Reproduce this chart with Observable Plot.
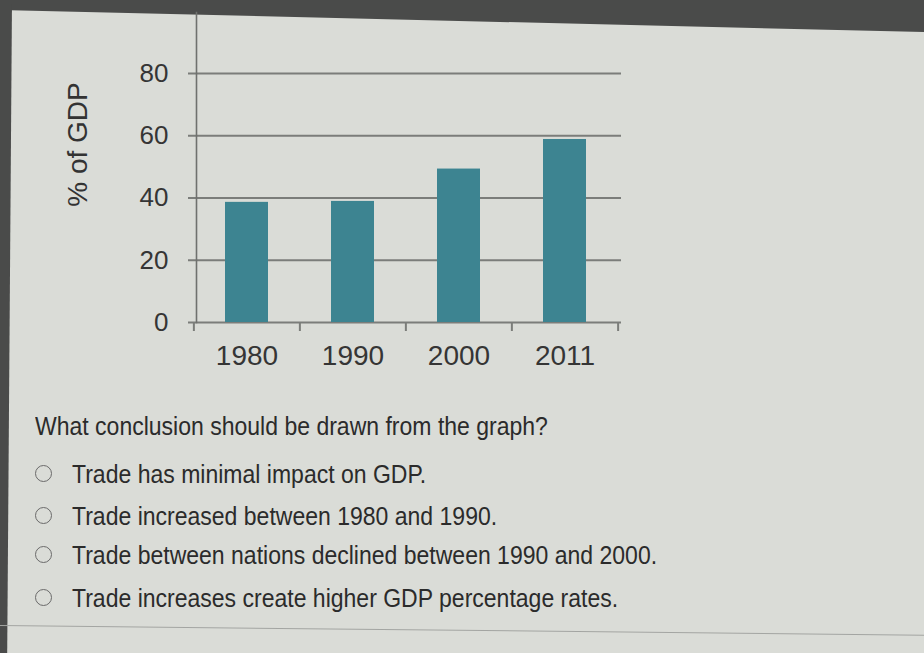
<!DOCTYPE html>
<html>
<head>
<meta charset="utf-8">
<script src="https://cdn.jsdelivr.net/npm/d3@7"></script>
<script src="https://cdn.jsdelivr.net/npm/@observablehq/plot@0.6"></script>
<style>
html,body{margin:0;padding:0;}
body{width:924px;height:653px;overflow:hidden;background:#dadcd7;position:relative;font-family:"Liberation Sans",Arial,sans-serif;}
#topbar{position:absolute;left:0;top:0;width:924px;height:34px;background:#4a4b4a;clip-path:polygon(0 0,100% 0,100% 32px,0 10px);}
#leftbar{position:absolute;left:0;top:0;width:12px;height:653px;background:#4a4b4a;clip-path:polygon(0 0,100% 0,60% 100%,0 100%);}
#chart{position:absolute;left:0;top:0;}
#q{position:absolute;left:35px;top:411px;font-family:"Liberation Sans",Arial,sans-serif;font-size:26px;line-height:30px;color:#2b2b2b;white-space:nowrap;transform-origin:0 50%;transform:scaleX(0.885);}
.opt{position:absolute;left:35px;height:30px;font-family:"Liberation Sans",Arial,sans-serif;font-size:26px;line-height:30px;color:#2b2b2b;white-space:nowrap;}
.opt .c{position:absolute;left:0px;top:6px;width:15px;height:15px;border:1.8px solid #6a6a6a;border-radius:50%;box-sizing:content-box;}
.opt .t{position:absolute;left:37px;top:0;display:inline-block;transform-origin:0 50%;transform:scaleX(0.885);}
#sep{position:absolute;left:0;top:625px;width:940px;height:0;border-top:1.5px solid #a3a5a2;transform-origin:0 0;transform:rotate(0.6deg);}
</style>
</head>
<body>
<div id="topbar"></div>
<div id="leftbar"></div>
<div id="chart"></div>
<div id="q"></div>
<div id="opts"></div>
<div id="sep"></div>
<script>
const years = ["1980", "1990", "2000", "2011"];
const shares = [38.6, 38.9, 49.3, 58.8];
const yTicks = [0, 20, 40, 60, 80];
const yLabel = "% of GDP";
const question = "What conclusion should be drawn from the graph?";
const options = [
  "Trade has minimal impact on GDP.",
  "Trade increased between 1980 and 1990.",
  "Trade between nations declined between 1990 and 2000.",
  "Trade increases create higher GDP percentage rates."
];

const data = years.map((year, i) => ({year, share: shares[i]}));

const W = 924, H = 390, mL = 196, mR = 303, mT = 12, mB = 68;
const step = (W - mL - mR) / years.length;
const gridColor = "#7b7d7a";

const plot = Plot.plot({
  width: W, height: H,
  marginLeft: mL, marginRight: mR, marginTop: mT, marginBottom: mB,
  style: {background: "transparent", fontFamily: "'Liberation Sans', Arial, sans-serif", fontSize: "26px", color: "#353535", overflow: "visible"},
  x: {domain: years, paddingInner: 0.59, paddingOuter: 0.295, align: 0.45, label: null},
  y: {domain: [0, 99.6], label: null},
  marks: [
    Plot.ruleY(yTicks, {stroke: gridColor, strokeWidth: 2, insetLeft: -8}),
    Plot.frame({anchor: "left", stroke: "#6f716e", strokeWidth: 1.6}),
    Plot.ruleX(years, {x: d => d, y1: 0, y2: 0, insetBottom: -9, dx: -step / 2, stroke: gridColor, strokeWidth: 2}),
    Plot.ruleX(years.slice(-1), {x: d => d, y1: 0, y2: 0, insetBottom: -9, dx: step / 2, stroke: gridColor, strokeWidth: 2}),
    Plot.barY(data, {x: "year", y: "share", fill: "#3d8491"}),
    Plot.axisY({ticks: yTicks, tickSize: 0, tickPadding: 28, label: null, fontSize: 26}),
    Plot.axisX({tickSize: 0, tickPadding: 23, label: null, fontSize: 28}),
    Plot.text([yLabel], {frameAnchor: "left", dx: -118, dy: -23, rotate: -90, textAnchor: "middle", lineAnchor: "middle", fontSize: 28, fill: "#333"})
  ]
});
document.getElementById("chart").appendChild(plot);

document.getElementById("q").textContent = question;
const tops = [459, 501, 540, 583];
const opts = document.getElementById("opts");
options.forEach((o, i) => {
  const d = document.createElement("div");
  d.className = "opt";
  d.style.top = tops[i] + "px";
  d.innerHTML = '<span class="c"></span><span class="t"></span>';
  d.querySelector(".t").textContent = o;
  opts.appendChild(d);
});
</script>
</body>
</html>
